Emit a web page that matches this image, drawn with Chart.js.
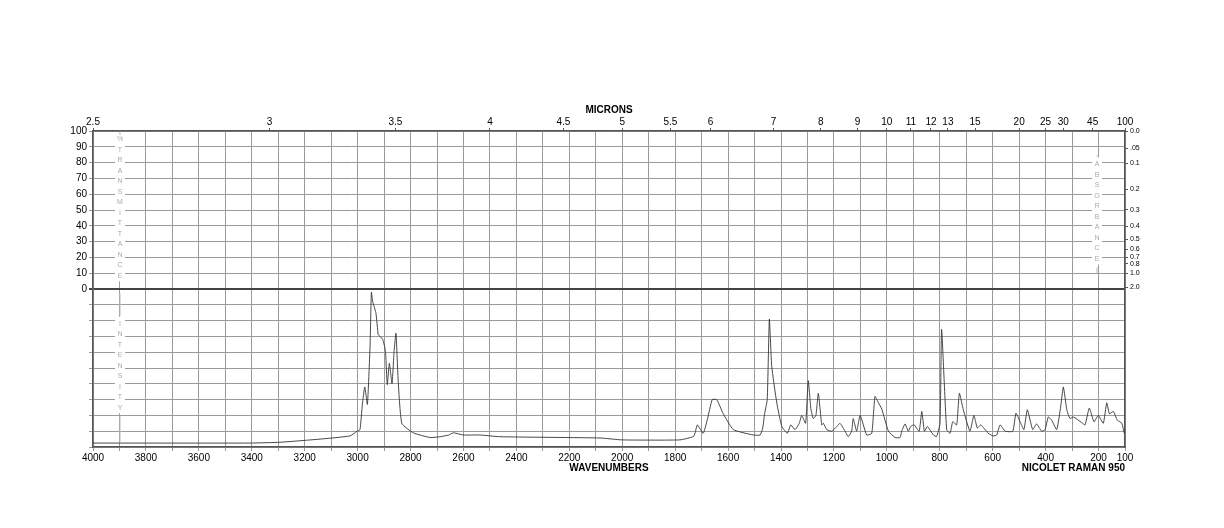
<!DOCTYPE html>
<html>
<head>
<meta charset="utf-8">
<script src="https://cdn.jsdelivr.net/npm/chart.js@4"></script>
<style>
  html, body { margin: 0; padding: 0; background: #fff; }
  #wrap { width: 1224px; height: 528px; }
</style>
</head>
<body>
<div id="wrap"><canvas id="spectrum" width="1224" height="528"></canvas></div>
<script>
// --- Data (Raman intensity, 0-100 of lower panel) ---
const wavenumbers = [4000, 3407, 3293, 3142, 3029, 3002, 2991, 2982, 2973, 2963, 2953, 2948, 2943, 2931, 2922, 2915, 2905, 2895, 2888, 2880, 2870, 2862, 2855, 2847, 2833, 2790, 2726, 2689, 2657, 2638, 2601, 2537, 2462, 2084, 2001, 1782, 1731, 1725, 1716, 1694, 1679, 1660, 1643, 1618, 1580, 1505, 1479, 1469, 1462, 1452, 1444, 1435, 1416, 1397, 1376, 1363, 1347, 1331, 1322, 1307, 1297, 1287, 1278, 1268, 1259, 1246, 1240, 1227, 1208, 1189, 1177, 1158, 1146, 1133, 1127, 1114, 1101, 1076, 1057, 1045, 1032, 1019, 994, 969, 950, 944, 931, 919, 910, 897, 878, 868, 858, 847, 824, 812, 799, 793, 774, 761, 751, 736, 726, 711, 686, 671, 658, 645, 617, 598, 585, 572, 553, 524, 512, 494, 482, 469, 449, 434, 415, 402, 390, 377, 358, 343, 333, 320, 308, 295, 264, 251, 235, 217, 201, 182, 169, 159, 144, 129, 112, 103];
const intensity = [2.5, 2.5, 3, 5, 7, 10, 11, 27, 38, 27, 64, 98, 92, 85, 71, 70, 68, 61, 39.5, 53, 40, 61, 72, 43, 15, 9, 6, 6.5, 7.5, 9, 7.6, 7.6, 6.5, 5.7, 4.5, 4.5, 6.6, 8.7, 14, 8.7, 17, 30, 30, 21, 11, 7.6, 7.6, 12, 21, 30, 81, 51, 28, 13, 8.7, 14, 11, 15, 20, 15, 42, 24, 18, 20, 34, 14, 15, 11, 10, 13, 15, 10, 6.6, 10, 18, 10, 20, 7.6, 8.7, 32, 28, 24, 10, 6, 6, 10, 14.6, 10, 13, 14, 10, 22.5, 10, 13, 7.6, 6.6, 15, 74.5, 11, 8.7, 16, 14, 34, 23.6, 10, 20, 12, 14, 8.7, 7, 7.6, 14, 10, 10, 21.4, 15, 11, 23.6, 11, 14.6, 10, 11, 19, 17, 11, 25.7, 38, 23.6, 18, 19, 15.5, 14, 24.6, 16, 20, 15, 28, 21, 22.5, 17, 15, 8.7, 7];

// --- Tick labels ---
const yLabels = [0, 10, 20, 30, 40, 50, 60, 70, 80, 90, 100];
const microns = [2.5, 3, 3.5, 4, 4.5, 5, 5.5, 6, 7, 8, 9, 10, 11, 12, 13, 15, 20, 25, 30, 45, 100];
const absorbance = ['0.0', '.05', '0.1', '0.2', '0.3', '0.4', '0.5', '0.6', '0.7', '0.8', '1.0', '2.0'];

const FONT = 'Liberation Sans, Arial, sans-serif';
const points = wavenumbers.map((w, i) => ({ x: w, y: intensity[i] - 100 }));

// --- Axis titles and vertical labels ---
const labelsPlugin = {
    id: 'labels',
    afterDraw(chart) {
        const c = chart.ctx;
        const area = chart.chartArea;
        const yS = chart.scales.y;
        c.save();
        c.fillStyle = '#000';
        c.font = 'bold 10px ' + FONT;
        c.textAlign = 'center';
        c.fillText('MICRONS', (area.left + area.right) / 2 + 0, 113);
        c.fillText('WAVENUMBERS', (area.left + area.right) / 2, 471);
        c.textAlign = 'right';
        c.fillText('NICOLET RAMAN 950', area.right, 471);

        // vertical spelled labels
        const vert = (text, x, y0, y1) => {
            const chars = text.split('');
            const step = 10.5;
            const h = chars.length * step;
            const start = (y0 + y1) / 2 - h / 2;
            c.fillStyle = '#fff';
            c.fillRect(x - 5, start - 4, 10, h + 2);
            c.strokeStyle = '#bbb';
            c.lineWidth = 1;
            c.beginPath();
            c.moveTo(x, y0 + 4); c.lineTo(x, start - 5);
            c.moveTo(x, start + h + 1); c.lineTo(x, y1 - 4);
            c.stroke();
            c.fillStyle = '#aaa';
            c.font = '7px ' + FONT;
            c.textAlign = 'center';
            c.textBaseline = 'middle';
            chars.forEach((ch, i) => c.fillText(ch, x, start + i * step + 3));
        };
        const yTop = yS.getPixelForValue(100), yMid = yS.getPixelForValue(0), yBot = yS.getPixelForValue(-100);
        vert('%TRANSMITTANCE', 120, yTop, yMid);
        vert('INTENSITY', 120, yMid, yBot);
        vert('ABSORBANCE', 1097, yTop + 20, yMid - 12);
        c.restore();
    }
};

new Chart(document.getElementById('spectrum').getContext('2d'), {
    type: 'line',
    data: {
        datasets: [{
            data: points,
            borderColor: '#333',
            borderWidth: 0.9,
            pointRadius: 0,
            tension: 0.15,
            xAxisID: 'x',
            yAxisID: 'y'
        }]
    },
    options: {
        responsive: false,
        animation: false,
        events: [],
        layout: { padding: 0 },
        plugins: { legend: { display: false }, tooltip: { enabled: false } },
        scales: {
            x: {
                type: 'linear', position: 'bottom', reverse: true, min: 100, max: 4000,
                afterFit: (s) => { s.height = 81; },
                afterBuildTicks: (s) => {
                    const t = [];
                    for (let v = 100; v <= 4000; v += 100) t.push({ value: v });
                    s.ticks = t;
                },
                grid: { color: '#9a9a9a', lineWidth: 1, tickLength: 4, drawTicks: true },
                border: { color: '#555', width: 1.5 },
                ticks: {
                    color: '#000', font: { family: FONT, size: 10 }, padding: 1, maxRotation: 0, autoSkip: false,
                    callback: (v) => (v % 200 === 0 || v === 100) ? String(v) : ''
                }
            },
            x2: {
                type: 'linear', position: 'top', reverse: true, min: 100, max: 4000,
                afterFit: (s) => { s.height = 131; },
                afterBuildTicks: (s) => { s.ticks = microns.map(m => ({ value: 10000 / m })); },
                grid: { display: true, drawOnChartArea: false, tickLength: 3, color: '#555' },
                border: { color: '#555', width: 1.5 },
                ticks: {
                    color: '#000', font: { family: FONT, size: 10 }, padding: 0, maxRotation: 0, autoSkip: false,
                    callback: (v, i) => String(microns[i])
                }
            },
            y: {
                type: 'linear', position: 'left', min: -100, max: 100,
                afterFit: (s) => { s.width = 93; },
                afterBuildTicks: (s) => {
                    const t = [];
                    for (let v = -100; v <= 100; v += 10) t.push({ value: v });
                    s.ticks = t;
                },
                grid: {
                    color: (ctx) => ctx.tick && ctx.tick.value === 0 ? '#444' : '#9a9a9a',
                    lineWidth: (ctx) => ctx.tick && ctx.tick.value === 0 ? 2 : 1,
                    tickLength: 4
                },
                border: { color: '#555', width: 1.5 },
                ticks: {
                    color: '#000', font: { family: FONT, size: 10 }, padding: 2, autoSkip: false,
                    callback: (v) => yLabels.includes(v) ? String(v) : ''
                }
            },
            y2: {
                type: 'linear', position: 'right', min: -100, max: 100,
                afterFit: (s) => { s.width = 99; },
                afterBuildTicks: (s) => {
                    s.ticks = absorbance.map(a => ({ value: 100 * Math.pow(10, -parseFloat(a)) }));
                },
                grid: { drawOnChartArea: false, tickLength: 3, color: '#555' },
                border: { color: '#555', width: 1.5 },
                ticks: {
                    color: '#000', font: { family: FONT, size: 7 }, padding: 2, autoSkip: false,
                    callback: (v, i) => absorbance[i]
                }
            }
        }
    },
    plugins: [labelsPlugin]
});
</script>
</body>
</html>
